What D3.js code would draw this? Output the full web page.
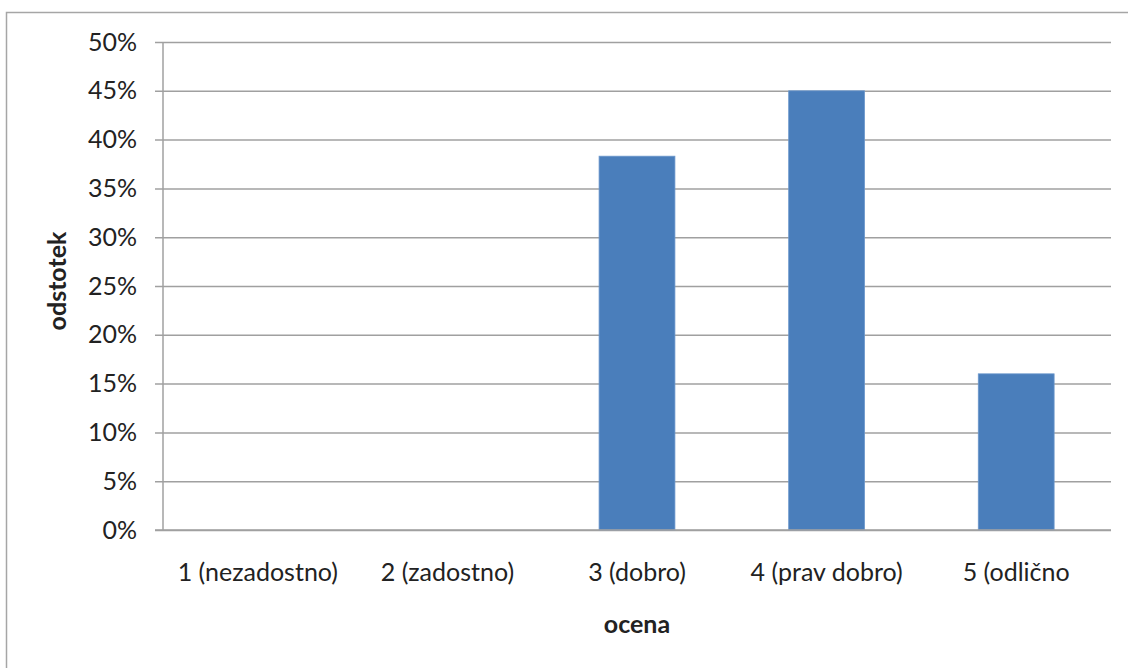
<!DOCTYPE html>
<html>
<head>
<meta charset="utf-8">
<script src="https://cdn.jsdelivr.net/npm/d3@7"></script>
<style>
  html, body { margin: 0; padding: 0; background: #fff; }
  svg { display: block; }
  text { font-family: Lato, "Open Sans", sans-serif; fill: #222; }
</style>
</head>
<body>
<svg id="chart" width="1128" height="668"></svg>
<script>
// Ocene (grades) and the share of answers for each
const categories = ["1 (nezadostno)", "2 (zadostno)", "3 (dobro)", "4 (prav dobro)", "5 (odlično"];
const values = [0, 0, 0.383, 0.45, 0.16];
const yTicks = [0, 0.05, 0.10, 0.15, 0.20, 0.25, 0.30, 0.35, 0.40, 0.45, 0.50];
const xTitle = "ocena";
const yTitle = "odstotek";

const svg = d3.select("#chart");
const W = 1128, H = 668;
const plot = { left: 163, right: 1111, top: 42, bottom: 530 };
const FS = 25;

// outer chart frame (top and left edges visible)
svg.append("path")
  .attr("d", `M6.5,${H} L6.5,12.5 L${W},12.5`)
  .attr("fill", "none")
  .attr("stroke", "#a6a6a6")
  .attr("stroke-width", 1.5);

const x = d3.scaleBand()
  .domain(categories)
  .range([plot.left, plot.right])
  .paddingInner(0.6)
  .paddingOuter(0.3);

const y = d3.scaleLinear()
  .domain([0, 0.5])
  .range([plot.bottom, plot.top]);

// horizontal gridlines with tick stubs on the left
const yAxis = d3.axisLeft(y)
  .tickValues(yTicks)
  .tickFormat(d3.format(".0%"))
  .tickSize(-(plot.right - plot.left))
  .tickPadding(26);

const gy = svg.append("g")
  .attr("transform", `translate(${plot.left},0)`)
  .call(yAxis);
gy.select(".domain").remove();
gy.selectAll(".tick line")
  .attr("x1", -8)
  .attr("stroke", "#a0a0a0")
  .attr("stroke-width", 1.5);
gy.selectAll(".tick text")
  .attr("font-size", FS)
  .attr("fill", "#222")
  .style("font-family", "Lato, 'Open Sans', sans-serif");

// vertical axis line
svg.append("line")
  .attr("x1", plot.left).attr("x2", plot.left)
  .attr("y1", plot.top).attr("y2", plot.bottom)
  .attr("stroke", "#a0a0a0")
  .attr("stroke-width", 1.5);

// bars
svg.append("g")
  .selectAll("rect")
  .data(values.map((v, i) => ({ c: categories[i], v })))
  .join("rect")
  .filter(d => d.v > 0)
  .attr("x", d => x(d.c))
  .attr("width", x.bandwidth())
  .attr("y", d => y(d.v))
  .attr("height", d => y(0) - y(d.v))
  .attr("fill", "#4a7ebb")
  .attr("stroke", "#6b97cc")
  .attr("stroke-width", 0.8);

// redraw baseline on top of bars
svg.append("line")
  .attr("x1", plot.left - 8).attr("x2", plot.right)
  .attr("y1", y(0)).attr("y2", y(0))
  .attr("stroke", "#a0a0a0")
  .attr("stroke-width", 1.5);

// category labels
const xAxis = d3.axisBottom(x).tickSize(0).tickPadding(0);
const gx = svg.append("g")
  .attr("transform", `translate(0,${plot.bottom})`)
  .call(xAxis);
gx.select(".domain").remove();
gx.selectAll(".tick text")
  .attr("y", 51)
  .attr("dy", 0)
  .attr("font-size", FS)
  .attr("fill", "#222")
  .style("font-family", "Lato, 'Open Sans', sans-serif");

// axis titles
svg.append("text")
  .attr("x", (plot.left + plot.right) / 2)
  .attr("y", 633)
  .attr("text-anchor", "middle")
  .attr("font-size", FS)
  .attr("font-weight", "bold")
  .text(xTitle);

svg.append("text")
  .attr("transform", `translate(66,${(plot.top + plot.bottom) / 2 - 5}) rotate(-90)`)
  .attr("text-anchor", "middle")
  .attr("font-size", FS)
  .attr("font-weight", "bold")
  .text(yTitle);
</script>
</body>
</html>
